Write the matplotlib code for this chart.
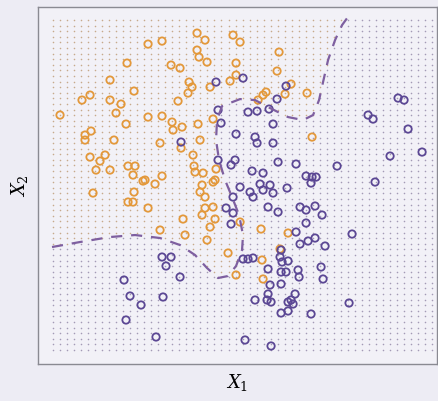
import numpy as np
import matplotlib
matplotlib.use("Agg")
import matplotlib.pyplot as plt
from matplotlib.path import Path

plt.rcParams['mathtext.fontset'] = 'dejavuserif'

# observations, class "orange"
orange_x = [8.9, 7.2, 9.6, 5.2, 4.4, 7.2, 8.3, 7.8, 2.2, 8.8, 5.3, 4.7, 4.7, 7.6, 5.2, 6.2,
            6.7, 5.8, 7.2, 9.0, 9.7, 9.5, 15.9, 16.7, 12.4, 11.0, 15.9, 16.1, 16.9, 13.3, 14.2,
            15.1, 15.4, 15.0, 17.2, 14.0, 11.0, 12.4, 13.4, 13.5, 14.4, 16.0, 17.5, 12.2, 16.2,
            14.3, 15.5, 10.5, 11.7, 12.4, 15.6, 15.7, 16.5, 17.5, 16.4, 5.5, 9.6, 16.2, 16.7,
            19.5, 19.2, 19.8, 20.2, 24.1, 19.8, 23.9, 25.3, 22.8, 22.5, 24.7, 26.9, 22.0, 27.4,
            17.8, 17.7, 10.7, 9.0, 9.5, 11.0, 14.5, 16.4, 16.7, 17.5, 17.2, 16.9, 12.2, 14.7,
            17.7, 19.0, 19.8, 20.2, 22.3, 25.0, 24.2, 22.5, 22.4]
orange_y = [30.1, 28.4, 27.3, 26.9, 26.4, 26.4, 26.0, 25.1, 24.9, 24.0, 23.3, 22.9, 22.4, 22.4,
            20.7, 20.3, 20.9, 19.4, 19.4, 19.8, 19.8, 18.9, 33.1, 32.4, 32.3, 32.0, 31.4, 30.7,
            30.2, 29.9, 29.6, 28.2, 27.7, 27.1, 27.7, 26.3, 24.7, 24.8, 24.2, 23.4, 23.7, 24.0,
            24.5, 22.1, 22.4, 21.6, 20.9, 18.3, 18.0, 18.8, 19.8, 19.2, 19.1, 18.2, 17.9, 17.1,
            17.2, 17.2, 16.7, 32.9, 28.3, 28.9, 32.2, 31.2, 30.1, 29.3, 28.0, 27.2, 26.9, 27.0,
            27.1, 26.4, 22.7, 19.5, 18.4, 18.4, 16.2, 16.2, 15.6, 14.5, 14.9, 15.6, 15.7, 13.7,
            12.4, 13.4, 12.9, 14.5, 11.1, 8.9, 14.2, 13.5, 13.1, 11.5, 8.5, 10.4]

# observations, class "purple"
purple_x = [17.8, 18.0, 18.3, 19.8, 14.3, 18.0, 19.7, 19.3, 20.5, 24.8, 23.9, 21.0, 21.9, 23.1,
            23.5, 21.7, 21.9, 23.5, 24.0, 25.8, 21.4, 22.5, 26.8, 27.4, 27.8, 27.3, 24.9, 22.2,
            23.2, 23.5, 22.5, 21.2, 21.5, 20.2, 19.5, 36.0, 36.6, 33.0, 33.5, 37.0, 38.4, 35.2,
            29.9, 33.7, 12.4, 13.3, 12.8, 14.2, 8.6, 9.2, 12.5, 10.3, 8.8, 11.8, 18.8, 19.3,
            23.0, 24.0, 26.2, 26.8, 27.7, 28.4, 26.8, 25.8, 26.2, 27.0, 27.7, 28.7, 31.4, 24.3,
            24.2, 25.0, 23.0, 24.3, 24.8, 26.0, 26.1, 28.3, 28.5, 24.3, 23.2, 23.0, 21.7, 22.9,
            23.3, 25.7, 25.3, 25.0, 25.5, 24.3, 25.0, 27.3, 20.7, 23.3, 20.5, 21.0, 21.5, 31.1,
            24.4, 19.5]
purple_y = [28.2, 25.4, 24.1, 23.0, 22.2, 20.4, 20.4, 19.9, 28.6, 27.8, 26.5, 25.2, 25.3, 25.5,
            24.0, 22.7, 22.1, 22.1, 20.2, 20.0, 19.3, 19.1, 18.8, 18.7, 18.7, 18.1, 17.6, 18.0,
            17.9, 17.1, 17.4, 17.2, 16.7, 17.7, 16.7, 26.6, 26.4, 24.9, 24.5, 23.5, 21.2, 20.8,
            19.8, 18.2, 10.7, 10.7, 9.8, 8.7, 8.4, 6.8, 6.7, 5.9, 4.4, 2.7, 15.6, 14.0,
            15.7, 15.2, 15.7, 15.4, 15.8, 14.9, 14.1, 13.2, 12.0, 12.3, 12.6, 11.8, 13.0, 11.4,
            10.7, 10.3, 9.5, 9.2, 9.2, 9.4, 8.7, 9.7, 8.5, 8.0, 7.9, 7.0, 6.4, 6.4,
            6.2, 7.0, 6.4, 6.2, 6.0, 5.1, 5.3, 5.0, 2.4, 1.8, 10.5, 10.5, 10.6, 6.1,
            10.2, 15.1]

# Bayes decision boundary
bnd_x = [1.4, 4.2, 7.2, 9.7, 12.2, 14.2, 15.7, 16.9, 18.0, 19.0, 19.8, 20.4, 20.5, 20.1,
         19.4, 18.7, 18.1, 17.8, 17.9, 18.4, 20.2, 21.7, 23.2, 25.0, 26.5, 27.5, 28.1, 28.5,
         29.0, 29.7, 30.4, 31.2]
bnd_y = [11.7, 12.2, 12.7, 12.9, 12.6, 11.9, 10.9, 9.6, 8.6, 8.8, 9.8, 11.4, 12.9, 14.9,
         16.7, 18.4, 20.4, 22.4, 24.4, 25.8, 26.5, 26.4, 25.6, 24.7, 24.4, 24.9, 26.4, 28.2,
         30.4, 32.4, 33.9, 35.0]

xmax, ymax = 39.9, 35.7
c_orange = '#E3983A'
c_purple = '#5B4794'

fig = plt.figure(figsize=(4.39, 4.01), dpi=100, facecolor='#EDECF4')
ax = fig.add_axes([0.0866, 0.0923, 0.909, 0.890])
ax.set_facecolor('#F2F1F7')

# background grid coloured by region
gx, gy = np.meshgrid(np.linspace(1.5, 39.4, 55), np.linspace(1.4, 34.4, 60))
pts = np.column_stack([gx.ravel(), gy.ravel()])
poly = [(0.0, bnd_y[0])] + list(zip(bnd_x, bnd_y)) + [(31.8, ymax + 1), (0.0, ymax + 1)]
inside = Path(poly).contains_points(pts)
ax.scatter(pts[inside, 0], pts[inside, 1], s=1.3, color='#C7A98C', linewidths=0)
ax.scatter(pts[~inside, 0], pts[~inside, 1], s=1.3, color='#A39AB6', linewidths=0)

ax.plot(bnd_x, bnd_y, color='#7E5FA0', lw=1.6, dashes=(5, 4))

ax.scatter(orange_x, orange_y, s=28, facecolors='none', edgecolors=c_orange, linewidths=1.3)
ax.scatter(purple_x, purple_y, s=28, facecolors='none', edgecolors=c_purple, linewidths=1.3)

ax.set_xlim(0, xmax)
ax.set_ylim(0, ymax)
ax.set_xticks([])
ax.set_yticks([])
for s in ax.spines.values():
    s.set_color('#8A8A92')
    s.set_linewidth(1.0)

ax.set_xlabel(r'$X_1$', fontsize=13, labelpad=6)
ax.set_ylabel(r'$X_2$', fontsize=13, labelpad=6)

fig.savefig('out.png', dpi=100, facecolor=fig.get_facecolor())
